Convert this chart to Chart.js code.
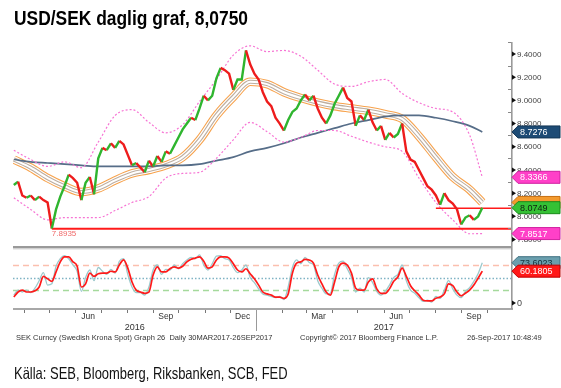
<!DOCTYPE html>
<html><head><meta charset="utf-8">
<script src="https://cdn.jsdelivr.net/npm/chart.js@4.4.1/dist/chart.umd.min.js"></script>
<style>
html,body{margin:0;padding:0;background:#fff;}
#wrap{position:relative;width:561px;height:388px;overflow:hidden;background:#fff;}
canvas{position:absolute;left:0;top:0;}
#title{position:absolute;left:14px;top:8px;font:bold 20px/20px 'Liberation Sans',Arial,sans-serif;color:#000;white-space:nowrap;transform:scaleX(0.87);transform-origin:0 0;}
#src{position:absolute;left:14px;top:365px;font:16.5px/16.5px 'Liberation Sans',Arial,sans-serif;color:#111;white-space:nowrap;transform:scaleX(0.785);transform-origin:0 0;}
</style></head><body>
<div id="wrap">
<canvas id="c" width="561" height="388"></canvas>
<div id="title">USD/SEK daglig graf, 8,0750</div>
<div id="src">Källa: SEB, Bloomberg, Riksbanken, SCB, FED</div>
</div>
<script>
// ---------- DATA ----------
const dates = ['2016-03-20','2016-03-25','2016-03-30','2016-04-04','2016-04-09','2016-04-14','2016-04-19','2016-04-24','2016-04-29','2016-05-04',
'2016-05-09','2016-05-14','2016-05-19','2016-05-24','2016-05-29','2016-06-03','2016-06-08','2016-06-13','2016-06-18','2016-06-23',
'2016-06-28','2016-07-03','2016-07-08','2016-07-13','2016-07-18','2016-07-23','2016-07-28','2016-08-02','2016-08-07','2016-08-12',
'2016-08-17','2016-08-22','2016-08-27','2016-09-01','2016-09-06','2016-09-11','2016-09-16','2016-09-21','2016-09-26','2016-10-01',
'2016-10-06','2016-10-11','2016-10-16','2016-10-21','2016-10-26','2016-10-31','2016-11-05','2016-11-10','2016-11-15','2016-11-20',
'2016-11-25','2016-11-30','2016-12-05','2016-12-10','2016-12-15','2016-12-20','2016-12-25','2016-12-30','2017-01-04','2017-01-09',
'2017-01-14','2017-01-19','2017-01-24','2017-01-29','2017-02-03','2017-02-08','2017-02-13','2017-02-18','2017-02-23','2017-02-28',
'2017-03-05','2017-03-10','2017-03-15','2017-03-20','2017-03-25','2017-03-30','2017-04-04','2017-04-09','2017-04-14','2017-04-19',
'2017-04-24','2017-04-29','2017-05-04','2017-05-09','2017-05-14','2017-05-19','2017-05-24','2017-05-29','2017-06-03','2017-06-08',
'2017-06-13','2017-06-18','2017-06-23','2017-06-28','2017-07-03','2017-07-08','2017-07-13','2017-07-18','2017-07-23','2017-07-28',
'2017-08-02','2017-08-07','2017-08-12','2017-08-17','2017-08-22','2017-08-27','2017-09-01','2017-09-06','2017-09-11','2017-09-16',
'2017-09-21','2017-09-26'];

const usdsek = [8.27,8.30,8.18,8.16,8.18,8.14,8.17,8.14,8.12,7.895,
8.06,8.17,8.26,8.36,8.33,8.29,8.14,8.29,8.34,8.19,
8.50,8.59,8.57,8.63,8.59,8.65,8.62,8.53,8.44,8.46,
8.42,8.38,8.48,8.43,8.52,8.47,8.56,8.54,8.61,8.68,
8.75,8.80,8.85,8.83,8.93,9.04,9.00,9.04,9.19,9.28,
9.26,9.23,9.09,9.18,9.18,9.43,9.31,9.23,9.18,9.07,
8.99,8.95,8.85,8.80,8.74,8.83,8.90,8.93,9.00,9.05,
9.00,9.04,8.93,8.85,8.80,8.87,8.97,9.04,9.11,9.02,
8.99,8.78,8.87,8.83,8.92,8.81,8.74,8.78,8.66,8.72,
8.68,8.71,8.80,8.56,8.49,8.47,8.40,8.33,8.26,8.23,
8.18,8.10,8.20,8.14,8.11,8.06,7.93,7.99,8.01,7.97,
8.00,8.0749];

const rsiSmooth = [19,27,30,27,27,29,35,52,48,44,
59,75,83,83,75,68,35,40,57,52,
56,57,57,60,59,70,78,65,43,30,
27,25,27,54,67,59,59,64,67,65,
68,75,79,81,83,76,65,67,78,83,
83,81,72,62,59,64,56,48,38,27,
24,22,19,19,17,24,57,73,75,79,
78,73,54,40,27,22,43,67,73,70,
57,33,30,30,43,48,32,25,25,32,
44,51,65,52,37,29,22,14,13,13,
17,19,24,40,37,27,21,25,30,38,
49,60.1805];

const rsiRaw = [22,30,27,30,26,33,45,58,38,40,
68,80,85,80,70,60,28,50,62,45,
66,60,55,63,57,76,80,55,35,26,
26,22,35,62,70,55,63,62,70,64,
72,78,82,80,86,70,62,72,84,85,
80,78,66,58,62,70,50,42,32,24,
22,20,18,20,15,35,66,78,72,82,
74,70,45,33,24,25,55,73,76,64,
50,27,33,27,50,42,28,22,28,38,
50,55,70,45,30,25,18,12,14,11,
20,17,30,45,32,22,18,28,34,44,
56,73.6023];

const smDates = ['2016-03-20','2016-04-09','2016-04-29','2016-05-19','2016-06-08','2016-06-28','2016-07-18','2016-08-07','2016-08-27','2016-09-16',
'2016-10-06','2016-10-26','2016-11-15','2016-12-05','2016-12-25','2017-01-14','2017-02-03','2017-02-23','2017-03-15','2017-04-04',
'2017-04-24','2017-05-14','2017-06-03','2017-06-23','2017-07-13','2017-08-02','2017-08-22','2017-09-11','2017-09-26'];
const envelopeMid = [8.49,8.42,8.33,8.26,8.21,8.24,8.31,8.37,8.40,8.44,8.51,8.66,8.87,9.03,9.16,9.14,9.07,9.02,8.98,8.95,8.93,8.91,8.88,8.84,8.69,8.51,8.34,8.23,8.12];
const ma200 = [8.49,8.47,8.46,8.45,8.44,8.43,8.43,8.43,8.43,8.44,8.44,8.45,8.48,8.51,8.56,8.59,8.63,8.68,8.72,8.76,8.80,8.83,8.86,8.87,8.87,8.85,8.82,8.78,8.7276];
const bbUpper = [8.57,8.49,8.43,8.47,8.42,8.64,8.87,8.92,8.81,8.72,8.79,8.99,9.18,9.39,9.47,9.42,9.43,9.38,9.26,9.14,9.12,9.16,9.18,9.06,8.98,8.93,8.90,8.70,8.3366];
const bbLower = [8.16,8.06,7.97,7.99,7.99,7.99,8.05,8.12,8.17,8.33,8.37,8.38,8.50,8.66,8.81,8.73,8.64,8.68,8.74,8.74,8.69,8.64,8.60,8.56,8.33,8.12,7.97,7.85,7.8517];

const supportLow = {from:'2016-05-04', value:7.8935, label:'7.8935'};
const supportShort = {from:'2017-08-02', value:8.07};

const priceTicks = [9.4,9.2,9.0,8.8,8.6,8.4,8.2,8.0,7.8];
const priceMinor = [9.5,9.3,9.1,8.9,8.7,8.5,8.3,8.1,7.9];
const rsiLevels = [70,50,30];
const rsiTicks = [0];
const monthTicks = ['2016-04-01','2016-05-01','2016-06-01','2016-07-01','2016-08-01','2016-09-01','2016-10-01','2016-11-01','2016-12-01',
'2017-01-01','2017-02-01','2017-03-01','2017-04-01','2017-05-01','2017-06-01','2017-07-01','2017-08-01','2017-09-01','2017-10-01'];
const monthLabels = ['Jun','Sep','Dec','Mar','Jun','Sep'];
const monthLabelDates = ['2016-06-16','2016-09-16','2016-12-16','2017-03-16','2017-06-16','2017-09-16'];
const yearLabels = ['2016','2017'];
const yearStart = '2017-01-01';
const axisStart = '2016-03-19', axisEnd = '2017-10-30';

const priceBoxes = [
  {v:8.7276, text:'8.7276', bg:'#1d4b75', fg:'#ffffff', bd:'#123555'},
  {v:8.3366, text:'8.3366', bg:'#ff40c8', fg:'#ffffff', bd:'#d020a0'},
  {v:8.12,   text:'',       bg:'#f39a2e', fg:'#000000', bd:'#c87010'},
  {v:8.0749, text:'8.0749', bg:'#35c135', fg:'#102010', bd:'#1a8a1a'},
  {v:7.8517, text:'7.8517', bg:'#ff40c8', fg:'#ffffff', bd:'#d020a0'}
];
const rsiBoxes = [
  {v:73.6023, text:'73.6023', bg:'#6a9fae', fg:'#13303c', bd:'#3f7080'},
  {v:60.1805, text:'60.1805', bg:'#ff1818', fg:'#ffffff', bd:'#c00000'}
];

const footLeft = 'SEK Curncy (Swedish Krona Spot) Graph 26  Daily 30MAR2017-26SEP2017';
const footMid = 'Copyright\u00A9 2017 Bloomberg Finance L.P.';
const footRight = '26-Sep-2017 10:48:49';

// ---------- HELPERS ----------
const T0 = Date.UTC(2016,0,1);
function day(s){const p=s.split('-').map(Number);return (Date.UTC(p[0],p[1]-1,p[2])-T0)/864e5;}
function pts(ds, vs){return ds.map((d,i)=>({x:day(d),y:vs[i]}));}

const UP='#2fb52f', DOWN='#ee1c1c';
const smoothOpts = {cubicInterpolationMode:'monotone', pointRadius:0, fill:false};

const envPts = pts(smDates, envelopeMid);

const datasets = [
  {data:pts(dates,usdsek), yAxisID:'y', borderWidth:2.4, pointRadius:0, tension:0, borderColor:UP,
   segment:{borderColor:c=>c.p1.parsed.y>=c.p0.parsed.y?UP:DOWN}},
  {data:[{x:day(supportLow.from),y:supportLow.value},{x:day(axisEnd),y:supportLow.value}], yAxisID:'y', borderColor:'#ff1a1a', borderWidth:2.2, pointRadius:0},
  {data:[{x:day(supportShort.from),y:supportShort.value},{x:day(axisEnd),y:supportShort.value}], yAxisID:'y', borderColor:'#ff1a1a', borderWidth:1.5, pointRadius:0},
  Object.assign({data:pts(dates,rsiSmooth), yAxisID:'yr', borderColor:'#ff1a1a', borderWidth:1.7}, smoothOpts),
  Object.assign({data:pts(dates,rsiRaw), yAxisID:'yr', borderColor:'#9cc9cc', borderWidth:1.3}, smoothOpts),
  Object.assign({data:pts(smDates,bbUpper), yAxisID:'y', borderColor:'#f774d4', borderWidth:1.2, borderDash:[2,2]}, smoothOpts),
  Object.assign({data:pts(smDates,bbLower), yAxisID:'y', borderColor:'#f774d4', borderWidth:1.2, borderDash:[2,2]}, smoothOpts),
  Object.assign({data:pts(smDates,ma200), yAxisID:'y', borderColor:'#566d88', borderWidth:1.7}, smoothOpts),
  Object.assign({data:envPts, yAxisID:'y', borderColor:'#ffffff', borderWidth:2}, smoothOpts),
  Object.assign({data:envPts, yAxisID:'y', borderColor:'#bdaea0', borderWidth:4.2}, smoothOpts),
  Object.assign({data:envPts, yAxisID:'y', borderColor:'#ffffff', borderWidth:6.5}, smoothOpts),
  Object.assign({data:envPts, yAxisID:'y', borderColor:'#f7a24c', borderWidth:8.6}, smoothOpts)
];

function drawBox(ctx, x, yc, b){
  const h=12, w=48;
  ctx.beginPath();
  ctx.moveTo(x, yc);
  ctx.lineTo(x+6, yc-h/2);
  ctx.lineTo(x+w, yc-h/2);
  ctx.lineTo(x+w, yc+h/2);
  ctx.lineTo(x+6, yc+h/2);
  ctx.closePath();
  ctx.fillStyle=b.bg; ctx.fill();
  ctx.strokeStyle=b.bd; ctx.lineWidth=1; ctx.stroke();
  if(b.text){
    ctx.fillStyle=b.fg; ctx.font='9px "Liberation Sans", Arial, sans-serif';
    ctx.textAlign='left'; ctx.textBaseline='middle';
    ctx.fillText(b.text, x+8, yc+0.5);
  }
}

const overlay = {
  id:'overlay',
  beforeDatasetsDraw(chart){
    const {ctx, chartArea:ca, scales:{yr}} = chart;
    ctx.save();
    const cols=['#fbbfae','#7fb3c4','#a5d99c'];
    const dashes=[[6,4],[1.5,2],[6,4]];
    rsiLevels.forEach((lv,i)=>{
      const py=Math.round(yr.getPixelForValue(lv))+0.5;
      ctx.beginPath(); ctx.setLineDash(dashes[i]); ctx.strokeStyle=cols[i]; ctx.lineWidth=1.3;
      ctx.moveTo(ca.left,py); ctx.lineTo(ca.right,py); ctx.stroke();
    });
    ctx.restore();
  },
  afterDraw(chart){
    const {ctx, chartArea:ca, scales:{x,y,yr}} = chart;
    ctx.save();
    ctx.setLineDash([]);
    ctx.fillStyle='#9a9a9a'; ctx.fillRect(ca.left, y.bottom-1, ca.right-ca.left, 2.5);
    ctx.fillStyle='#d8d8d8'; ctx.fillRect(ca.left, y.bottom+1.5, ca.right-ca.left, 1);
    ctx.fillStyle='#a8a8a8'; ctx.fillRect(ca.left, ca.bottom-1, ca.right-ca.left+2, 2);
    ctx.fillStyle='#9a9a9a'; ctx.fillRect(ca.right, ca.top+2, 1.6, ca.bottom-ca.top-2);
    ctx.fillStyle='#777';
    monthTicks.forEach(d=>{const px=Math.round(x.getPixelForValue(day(d))); ctx.fillRect(px, ca.bottom+1, 1, 3);});
    const yx=Math.round(x.getPixelForValue(day(yearStart)))+0.5;
    ctx.strokeStyle='#999'; ctx.lineWidth=1; ctx.beginPath(); ctx.moveTo(yx,ca.bottom+1); ctx.lineTo(yx,ca.bottom+22); ctx.stroke();
    ctx.fillStyle='#333'; ctx.font='8.5px "Liberation Sans", Arial, sans-serif'; ctx.textAlign='center'; ctx.textBaseline='middle';
    monthLabels.forEach((t,i)=>ctx.fillText(t, x.getPixelForValue(day(monthLabelDates[i])), ca.bottom+7.5));
    const ys=[[x.left, yx],[yx, x.right]];
    ctx.font='9px "Liberation Sans", Arial, sans-serif';
    yearLabels.forEach((t,i)=>ctx.fillText(t,(ys[i][0]+ys[i][1])/2, ca.bottom+19));
    ctx.textAlign='left';
    ctx.font='8px "Liberation Sans", Arial, sans-serif';
    priceMinor.forEach(v=>{const py=Math.round(y.getPixelForValue(v)); if(py>ca.top&&py<y.bottom) {ctx.fillStyle='#888'; ctx.fillRect(ca.right-3,py,3,1);}});
    priceTicks.forEach(v=>{
      const py=y.getPixelForValue(v);
      ctx.fillStyle='#111'; ctx.beginPath(); ctx.moveTo(ca.right+1,py-2.5); ctx.lineTo(ca.right+5,py); ctx.lineTo(ca.right+1,py+2.5); ctx.fill();
      ctx.fillStyle='#444'; ctx.fillText(v.toFixed(4), ca.right+6, py+0.5);
    });
    rsiTicks.forEach(v=>{
      const py=yr.getPixelForValue(v)-6;
      ctx.fillStyle='#111'; ctx.beginPath(); ctx.moveTo(ca.right+1,py-2.5); ctx.lineTo(ca.right+5,py); ctx.lineTo(ca.right+1,py+2.5); ctx.fill();
      ctx.fillStyle='#444'; ctx.font='9px "Liberation Sans", Arial, sans-serif'; ctx.fillText(String(v), ca.right+6, py+0.5);
    });
    priceBoxes.forEach(b=>drawBox(ctx, ca.right+1, y.getPixelForValue(b.v), b));
    rsiBoxes.forEach(b=>drawBox(ctx, ca.right+1, yr.getPixelForValue(b.v), b));
    ctx.fillStyle='#f06a6a'; ctx.font='8px "Liberation Sans", Arial, sans-serif'; ctx.textAlign='left'; ctx.textBaseline='middle';
    ctx.fillText(supportLow.label, x.getPixelForValue(day(supportLow.from)), y.getPixelForValue(supportLow.value)+5);
    ctx.fillStyle='#333'; ctx.font='7.5px "Liberation Sans", Arial, sans-serif';
    ctx.fillText(footLeft, 16, 338); ctx.fillText(footMid, 300, 338); ctx.fillText(footRight, 467, 338);
    ctx.restore();
  }
};

new Chart(document.getElementById('c'), {
  type:'line',
  data:{datasets},
  options:{
    responsive:false, animation:false,
    layout:{padding:{left:13, top:40, right:0, bottom:79}},
    plugins:{legend:{display:false}, tooltip:{enabled:false}},
    scales:{
      x:{type:'linear', display:false, min:day(axisStart), max:day(axisEnd)},
      y:{type:'linear', position:'right', stack:'panes', stackWeight:207, min:7.736, max:9.52,
         ticks:{display:false}, grid:{display:false}, border:{display:false}, afterFit(s){s.width=50;}},
      yr:{type:'linear', position:'right', stack:'panes', stackWeight:62, min:0, max:98.6,
         ticks:{display:false}, grid:{display:false}, border:{display:false}, afterFit(s){s.width=50;}}
    }
  },
  plugins:[overlay]
});
</script>
</body></html>
